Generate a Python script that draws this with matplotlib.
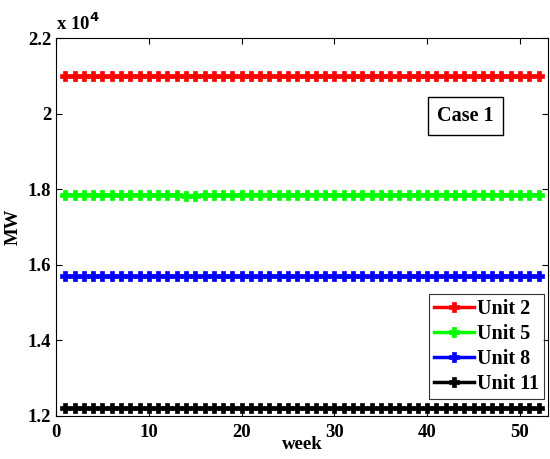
import matplotlib
matplotlib.use("Agg")
import matplotlib.pyplot as plt
import numpy as np

weeks = list(range(1, 53))
unit2 = [21000] * 52
unit5 = [17850] * 13 + [17820, 17830] + [17850] * 37
unit8 = [15700] * 52
unit11 = [12220] * 52
labels = ["Unit 2", "Unit 5", "Unit 8", "Unit 11"]
colors = ["#ff0000", "#00ff00", "#0000ff", "#000000"]

plt.rcParams['font.family'] = ['Liberation Serif', 'DejaVu Serif']
plt.rcParams['font.weight'] = 'bold'

fig = plt.figure(figsize=(5.5, 4.59), dpi=100)
ax = fig.add_axes([0.102, 0.094, 0.894, 0.823])
for y, lab, c in zip([unit2, unit5, unit8, unit11], labels, colors):
    ax.plot(weeks, np.array(y) / 1e4, '-', color=c, lw=2.5, marker='P', ms=7.5, mew=0.5, mec=c, label=lab)

ax.set_xlim(0, 53)
ax.set_ylim(1.2, 2.2)
ax.set_xticks([0, 10, 20, 30, 40, 50])
ax.set_yticks([1.2, 1.4, 1.6, 1.8, 2.0, 2.2])
ax.set_yticklabels(["1.2", "1.4", "1.6", "1.8", "2", "2.2"])
ax.tick_params(direction='in', labelsize=13.5, length=4, width=0.8, top=True, right=True)
ax.tick_params(axis='x', pad=6)
for lbl in ax.get_xticklabels() + ax.get_yticklabels():
    lbl.set_fontweight('bold')
ax.set_xlabel("week", fontsize=13.5, fontweight='bold', labelpad=-4)
ax.set_ylabel("MW", fontsize=13.5, fontweight='bold', labelpad=4)
ax.text(0.0, 1.01, "x 10$^{4}$", transform=ax.transAxes, fontsize=13.5, fontweight='bold', va='bottom', ha='left')
ax.text(0.833, 0.794, "Case 1", transform=ax.transAxes, fontsize=14.5, fontweight='bold', ha='center', va='center',
        bbox=dict(boxstyle='square,pad=0.45', fc='white', ec='black', lw=1))
leg = ax.legend(loc='lower right', bbox_to_anchor=(0.993, 0.045), fontsize=14.5, frameon=True, fancybox=False,
                edgecolor='black', handlelength=2.0, handletextpad=0.15, borderpad=0.25, labelspacing=0.25,
                borderaxespad=0)
leg.get_frame().set_linewidth(0.8)
for t in leg.get_texts():
    t.set_fontweight('bold')
fig.savefig("out.png", dpi=100)
